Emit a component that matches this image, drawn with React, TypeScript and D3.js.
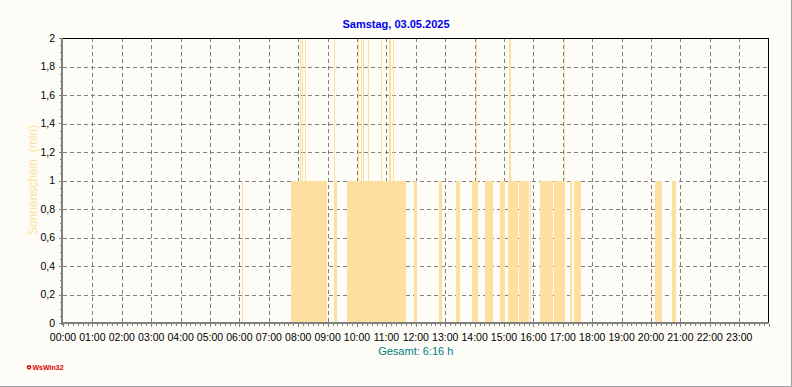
import React from "react";
import * as d3 from "d3";

// ---- data ----
const chartTitle = "Samstag, 03.05.2025";
const totalLabel = "Gesamt: 6:16 h";
const yAxisTitle = "Sonnenschein  (min)";
const footerLabel = "WsWin32";

const hourLabels = [
  "00:00", "01:00", "02:00", "03:00", "04:00", "05:00", "06:00", "07:00",
  "08:00", "09:00", "10:00", "11:00", "12:00", "13:00", "14:00", "15:00",
  "16:00", "17:00", "18:00", "19:00", "20:00", "21:00", "22:00", "23:00",
];
const yTickValues = [0, 0.2, 0.4, 0.6, 0.8, 1, 1.2, 1.4, 1.6, 1.8, 2];
const yTickLabels = ["0", "0,2", "0,4", "0,6", "0,8", "1", "1,2", "1,4", "1,6", "1,8", "2"];

// sunshine periods (value = minutes of sunshine per minute sample)
const segStart = [
  "06:05", "07:45", "09:13", "09:40", "11:56", "12:47", "13:22", "13:55",
  "14:21", "14:52", "15:08", "15:31", "15:53", "16:13", "16:42", "17:15",
  "17:23", "20:08", "20:43",
];
const segEnd = [
  "06:06", "08:59", "09:19", "11:39", "12:02", "12:53", "13:30", "14:07",
  "14:38", "15:02", "15:29", "15:51", "15:54", "16:39", "17:04", "17:19",
  "17:37", "20:22", "20:51",
];
const segValue = [1, 1, 1, 1, 1, 1, 1, 1, 1, 1, 1, 1, 1, 1, 1, 1, 1, 1, 1];

// single-minute samples reaching 2
const peakTimes = [
  "08:04", "08:08", "08:14", "09:13", "10:03", "10:08", "10:12", "10:22",
  "10:48", "11:05", "11:08", "11:14", "14:03", "15:10", "15:13", "17:02",
];
const peakValues = [2, 2, 2, 2, 2, 2, 2, 2, 2, 2, 2, 2, 2, 2, 2, 2];

// ---- helpers ----
const toMin = (t: string) => {
  const [h, m] = t.split(":").map(Number);
  return h * 60 + m;
};

const W = 792;
const H = 387;
const L = 63;
const R = 768.6;
const T = 38;
const B = 323;

const BAR = "#FDDF9F";
const GRID = "#808080";
const AXIS = "#808080";
const BG = "#FDFCF7";
const FONT = "'Liberation Sans', Arial, sans-serif";

export default function App() {
  const x = d3.scaleLinear().domain([0, 1440]).range([L, R]);
  const y = d3.scaleLinear().domain([0, 2]).range([B, T]);

  const bars = segStart.map((s, i) => ({
    s: toMin(s),
    e: toMin(segEnd[i]),
    v: segValue[i],
  }));
  const peaks = peakTimes.map((t, i) => ({
    s: toMin(t),
    e: toMin(t) + 1,
    v: peakValues[i],
  }));
  const allBars = [...bars, ...peaks];

  const minorX = d3.range(0, 1441, 10);
  const minorY = d3.range(0, 2.0001, 0.05);
  const px = (v: number) => Math.round(x(v));

  return (
    <>
      <style>{`body{margin:0;background:${BG}}`}</style>
      <svg width={W} height={H} style={{ display: "block", fontFamily: FONT }}>
        <rect x={0} y={0} width={W} height={H} fill={BG} />
        {/* frame edges */}
        <line x1={0} y1={H - 0.5} x2={W} y2={H - 0.5} stroke="#A0A0A0" />
        <line x1={W - 0.5} y1={0} x2={W - 0.5} y2={H} stroke="#A0A0A0" />

        {/* title */}
        <text x={W / 2} y={28} textAnchor="middle" fontSize={11} fontWeight="bold" fill="#0000F0">
          {chartTitle}
        </text>

        {/* grid */}
        <g shapeRendering="crispEdges" stroke={GRID} strokeDasharray="4,3">
          {yTickValues.slice(1, -1).map((t) => (
            <line key={"gy" + t} x1={L} x2={R} y1={Math.round(y(t)) + 0.5} y2={Math.round(y(t)) + 0.5} />
          ))}
          {hourLabels.slice(1).map((_, i) => (
            <line key={"gx" + i} x1={px((i + 1) * 60) + 0.5} x2={px((i + 1) * 60) + 0.5} y1={T} y2={B} />
          ))}
        </g>

        {/* bars */}
        <g shapeRendering="crispEdges" fill={BAR}>
          {allBars.map((d, i) => {
            const x0 = px(d.s);
            const w = Math.max(1, px(d.e) - x0);
            return <rect key={"b" + i} x={x0} y={y(d.v)} width={w} height={y(0) - y(d.v)} />;
          })}
        </g>

        {/* top & right border */}
        <g shapeRendering="crispEdges">
          <line x1={L} x2={R} y1={T + 0.5} y2={T + 0.5} stroke="#000" />
          <line x1={768.5} x2={768.5} y1={T} y2={B} stroke="#000" />
        </g>

        {/* axes */}
        <g shapeRendering="crispEdges" fill={AXIS}>
          <rect x={61} y={T} width={2} height={B - T + 2} />
          <rect x={61} y={B - 1} width={R - 61} height={2} />
          {minorX.map((m) => (
            <rect key={"tx" + m} x={px(m)} y={B + 1} width={1} height={m % 60 === 0 ? 3 : 2} />
          ))}
          {minorY.map((v, i) => (
            <rect key={"ty" + i} x={i % 4 === 0 ? 59 : 60} y={Math.round(y(v))} width={i % 4 === 0 ? 2 : 1} height={1} />
          ))}
        </g>

        {/* x labels */}
        <g fontSize={10.5} fill="#000" textAnchor="middle">
          {hourLabels.map((lbl, i) => (
            <text key={"xl" + i} x={x(i * 60)} y={341}>
              {lbl}
            </text>
          ))}
        </g>

        {/* y labels */}
        <g fontSize={10.5} fill="#000" textAnchor="end">
          {yTickValues.map((t, i) => (
            <text key={"yl" + i} x={55} y={y(t) + 3.7}>
              {yTickLabels[i]}
            </text>
          ))}
        </g>

        {/* y axis title */}
        <text
          transform={`translate(33,180) rotate(-90)`}
          textAnchor="middle"
          dominantBaseline="central"
          fontSize={12}
          fill={BAR}
          style={{ whiteSpace: "pre" }}
        >
          {yAxisTitle}
        </text>

        {/* total */}
        <text x={(L + R) / 2} y={355} textAnchor="middle" fontSize={11} fill="#008080">
          {totalLabel}
        </text>

        {/* footer */}
        <circle cx={29} cy={367.3} r={1.6} fill="none" stroke="#E00000" strokeWidth={1.4} />
        <text x={32.5} y={370} fontSize={7} fontWeight="bold" fill="#E00000">
          {footerLabel}
        </text>
      </svg>
    </>
  );
}
